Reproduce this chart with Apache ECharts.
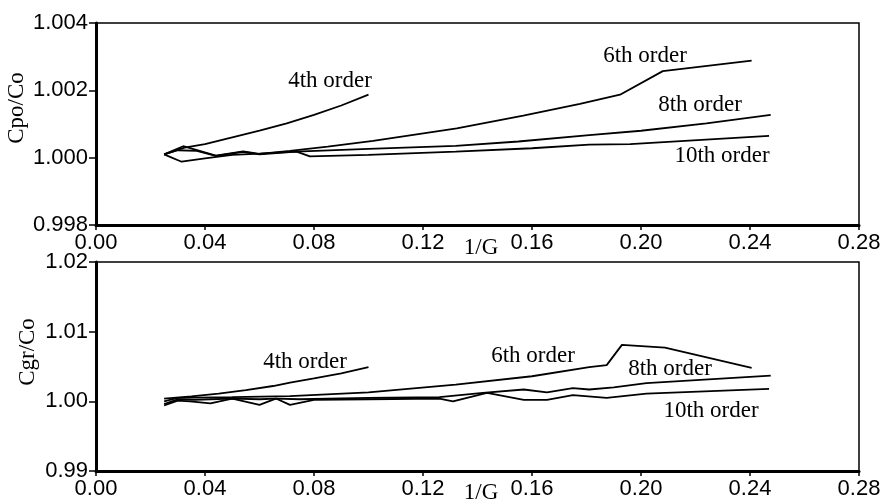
<!DOCTYPE html>
<html>
<head>
<meta charset="utf-8">
<script src="https://cdn.jsdelivr.net/npm/echarts@6/dist/echarts.min.js"></script>
<style>html,body{margin:0;padding:0;background:#fff}#c{width:890px;height:504px}</style>
</head>
<body>
<div id="c"></div>
<script>
// ---- data (x = 1/G, y = ratio) ----
const cpo4 = [[0.025,1.0001],[0.0325,1.0003],[0.04,1.0004],[0.05,1.0006],[0.06,1.0008],[0.07,1.00102],[0.08,1.00127],[0.09,1.00155],[0.1,1.00187]];
const cpo6 = [[0.025,1.0001],[0.032,1.00034],[0.038,1.0002],[0.044,1.00006],[0.054,1.00019],[0.06,1.00011],[0.0712,1.0002],[0.085,1.00033],[0.1017,1.0005],[0.1324,1.00087],[0.1568,1.00125],[0.1776,1.0016],[0.1923,1.00187],[0.208,1.00257],[0.2406,1.00288]];
const cpo8 = [[0.025,1.0001],[0.0314,0.99988],[0.04,0.99998],[0.05,1.00008],[0.06,1.00012],[0.071,1.00017],[0.1,1.00026],[0.132,1.00035],[0.155,1.00048],[0.181,1.00067],[0.2,1.0008],[0.224,1.00102],[0.2476,1.00127]];
const cpo10 = [[0.025,1.0001],[0.03,1.00022],[0.037,1.0002],[0.044,1.00005],[0.054,1.00017],[0.06,1.0001],[0.0736,1.00018],[0.0785,1.00004],[0.1,1.00008],[0.132,1.00018],[0.16,1.00028],[0.181,1.00039],[0.196,1.0004],[0.247,1.00065]];

const cgr4 = [[0.025,1.0004],[0.035,1.0007],[0.045,1.0011],[0.055,1.0016],[0.065,1.0022],[0.0712,1.0027],[0.08,1.0033],[0.09,1.004],[0.1,1.0049]];
const cgr6 = [[0.025,1.0],[0.03,1.0005],[0.05,1.0006],[0.0712,1.00076],[0.1,1.0013],[0.132,1.0024],[0.16,1.0036],[0.181,1.0049],[0.1874,1.0052],[0.193,1.0081],[0.2088,1.0077],[0.2406,1.0048]];
const cgr8 = [[0.025,0.9996],[0.03,1.0003],[0.036,1.0002],[0.042,1.0003],[0.05,1.0004],[0.06,1.0003],[0.066,1.0004],[0.075,1.0003],[0.085,1.0004],[0.1,1.0005],[0.126,1.0006],[0.142,1.0012],[0.157,1.0017],[0.1655,1.0013],[0.175,1.0019],[0.181,1.0017],[0.19,1.002],[0.202,1.0026],[0.2476,1.0037]];
const cgr10 = [[0.025,0.9994],[0.03,1.0001],[0.0345,1.0],[0.042,0.9997],[0.05,1.0004],[0.06,0.9995],[0.066,1.0004],[0.0712,0.9995],[0.08,1.0002],[0.1,1.0003],[0.126,1.0004],[0.131,1.0],[0.1435,1.0012],[0.157,1.0002],[0.1655,1.0002],[0.175,1.0009],[0.1874,1.0005],[0.202,1.0011],[0.247,1.0018]];

const seriesNames = ['4th order','6th order','8th order','10th order'];
const xTickDecimals = 2;
const topYDecimals = 3;
const botYDecimals = 2;

// ---- chart ----
const SANS = '"Liberation Sans", Arial, sans-serif';
const SERIF = '"Liberation Serif", "Times New Roman", serif';
const chart = echarts.init(document.getElementById('c'), null, {renderer:'canvas'});

function xAxisDef(gi){
  return {
    type:'value', gridIndex:gi, min:0, max:0.28, interval:0.04,
    axisLine:{show:true, lineStyle:{color:'#000', width:3}},
    axisTick:{show:true, length:5, lineStyle:{color:'#000', width:1.5}},
    axisLabel:{color:'#000', fontFamily:SANS, fontSize:22, margin:7,
      formatter:v=>v.toFixed(xTickDecimals)},
    splitLine:{show:false}
  };
}
function yAxisDef(gi,min,max,iv,dec){
  return {
    type:'value', gridIndex:gi, min:min, max:max, interval:iv,
    axisLine:{show:true, lineStyle:{color:'#000', width:3}},
    axisTick:{show:true, length:7, lineStyle:{color:'#000', width:1.5}},
    axisLabel:{color:'#000', fontFamily:SANS, fontSize:22, margin:8,
      formatter:v=>v.toFixed(dec)},
    splitLine:{show:false}
  };
}
function ln(data,gi){
  return {type:'line', xAxisIndex:gi, yAxisIndex:gi, data:data, showSymbol:false,
    symbol:'none', lineStyle:{color:'#000', width:1.8}, silent:true, animation:false};
}
function txt(s,x,y,rot){
  return {type:'text', x:x, y:y, rotation:rot||0,
    style:{text:s, fill:'#000', font:'23px '+SERIF, textAlign:'center', textVerticalAlign:'middle'}};
}

const option = {
  animation:false,
  backgroundColor:'#fff',
  grid:[
    {left:96, top:23, width:763, height:202, show:true, borderColor:'#000', borderWidth:1.5},
    {left:96, top:262, width:763, height:209, show:true, borderColor:'#000', borderWidth:1.5}
  ],
  xAxis:[xAxisDef(0), xAxisDef(1)],
  yAxis:[yAxisDef(0,0.998,1.004,0.002,topYDecimals), yAxisDef(1,0.99,1.02,0.01,botYDecimals)],
  series:[
    ln(cpo4,0), ln(cpo6,0), ln(cpo8,0), ln(cpo10,0),
    ln(cgr4,1), ln(cgr6,1), ln(cgr8,1), ln(cgr10,1)
  ],
  graphic:[
    txt(seriesNames[0],330,81), txt(seriesNames[1],645,56), txt(seriesNames[2],700,105), txt(seriesNames[3],722,156),
    txt(seriesNames[0],305,362), txt(seriesNames[1],533,356), txt(seriesNames[2],670,369), txt(seriesNames[3],711,411),
    txt('Cpo/Co',17,108,Math.PI/2), txt('Cgr/Co',28,352,Math.PI/2),
    txt('1/G',481,248), txt('1/G',481,493)
  ]
};
chart.setOption(option);
</script>
</body>
</html>
